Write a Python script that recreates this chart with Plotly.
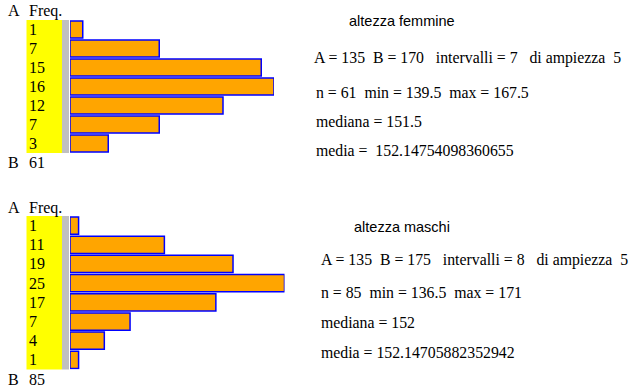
import plotly.graph_objects as go

W, H = 635, 389

# ---- data ----
fem_intervals = ["135-140", "140-145", "145-150", "150-155", "155-160", "160-165", "165-170"]
fem_freq = [1, 7, 15, 16, 12, 7, 3]
fem_n = 61
fem_title = "altezza femmine"
fem_lines = [
    "A = 135\u00a0\u00a0B = 170\u00a0\u00a0\u00a0intervalli = 7\u00a0\u00a0\u00a0di ampiezza\u00a0\u00a05",
    "n = 61\u00a0\u00a0min = 139.5\u00a0\u00a0max = 167.5",
    "mediana = 151.5",
    "media =\u00a0\u00a0152.14754098360655",
]

mas_intervals = ["135-140", "140-145", "145-150", "150-155", "155-160", "160-165", "165-170", "170-175"]
mas_freq = [1, 11, 19, 25, 17, 7, 4, 1]
mas_n = 85
mas_title = "altezza maschi"
mas_lines = [
    "A = 135\u00a0\u00a0B = 175\u00a0\u00a0\u00a0intervalli = 8\u00a0\u00a0\u00a0di ampiezza\u00a0\u00a05",
    "n = 85\u00a0\u00a0min = 136.5\u00a0\u00a0max = 171",
    "mediana = 152",
    "media = 152.14705882352942",
]

SERIF = "Liberation Serif, Times New Roman, serif"
SANS = "Liberation Sans, Arial, sans-serif"

def px(x):
    return x / W

def py(y):
    return 1 - y / H

fig = go.Figure()

panels = [
    dict(cats=fem_intervals, freq=fem_freq, n=fem_n, title=fem_title, lines=fem_lines,
         top=20, bot=153, xend=274, ax="", headY=11, bY=162, titleX=347, titleY=21,
         lineX=[312, 314, 314, 314], lineY=[58, 92, 121, 150]),
    dict(cats=mas_intervals, freq=mas_freq, n=mas_n, title=mas_title, lines=mas_lines,
         top=216, bot=369.5, xend=284.5, ax="2", headY=207.5, bY=379, titleX=352, titleY=227.5,
         lineX=[319, 319, 319, 319], lineY=[260, 292.5, 322, 352.5]),
]

shapes = []
annotations = []
for p in panels:
    ax = p["ax"]
    fig.add_trace(go.Bar(
        x=p["freq"], y=p["cats"], orientation="h",
        marker=dict(color="#FFA500", line=dict(color="#0000FF", width=1.5)),
        xaxis="x" + ax, yaxis="y" + ax, showlegend=False, hoverinfo="x+y",
    ))
    xa = dict(domain=[px(70), px(p["xend"])], range=[0, max(p["freq"])], visible=False,
              anchor="y" + ax, fixedrange=True)
    n = len(p["cats"])
    ya = dict(domain=[py(p["bot"]), py(p["top"])], type="category",
              range=[n - 0.5, -0.5], visible=False, anchor="x" + ax, fixedrange=True)
    fig.update_layout(**{"xaxis" + ax: xa, "yaxis" + ax: ya})

    shapes.append(dict(type="rect", xref="paper", yref="paper", x0=px(26.5), x1=px(62),
                       y0=py(p["bot"]), y1=py(p["top"]), fillcolor="#FFFF00", line_width=0,
                       layer="below"))
    shapes.append(dict(type="rect", xref="paper", yref="paper", x0=px(62), x1=px(69),
                       y0=py(p["bot"]), y1=py(p["top"]), fillcolor="#C0C0C0", line_width=0,
                       layer="below"))

    for c, f in zip(p["cats"], p["freq"]):
        annotations.append(dict(x=px(27), y=c, xref="paper", yref="y" + ax, text=str(f),
                                showarrow=False, xanchor="left", yanchor="middle",
                                font=dict(family=SERIF, size=16, color="black")))

    annotations.append(dict(x=px(6), y=py(p["headY"]), xref="paper", yref="paper", text="A",
                            showarrow=False, xanchor="left", yanchor="middle",
                            font=dict(family=SERIF, size=16, color="black")))
    annotations.append(dict(x=px(27), y=py(p["headY"]), xref="paper", yref="paper", text="Freq.",
                            showarrow=False, xanchor="left", yanchor="middle",
                            font=dict(family=SERIF, size=16, color="black")))
    annotations.append(dict(x=px(6), y=py(p["bY"]), xref="paper", yref="paper", text="B",
                            showarrow=False, xanchor="left", yanchor="middle",
                            font=dict(family=SERIF, size=16, color="black")))
    annotations.append(dict(x=px(27), y=py(p["bY"]), xref="paper", yref="paper", text=str(p["n"]),
                            showarrow=False, xanchor="left", yanchor="middle",
                            font=dict(family=SERIF, size=16, color="black")))
    annotations.append(dict(x=px(p["titleX"]), y=py(p["titleY"]), xref="paper", yref="paper",
                            text=p["title"], showarrow=False, xanchor="left", yanchor="middle",
                            font=dict(family=SANS, size=14.5, color="black")))
    for t, lx, ly in zip(p["lines"], p["lineX"], p["lineY"]):
        annotations.append(dict(x=px(lx), y=py(ly), xref="paper", yref="paper", text=t,
                                showarrow=False, xanchor="left", yanchor="middle",
                                font=dict(family=SERIF, size=15.8, color="black")))

fig.update_layout(
    width=W, height=H, autosize=False,
    margin=dict(l=0, r=0, t=0, b=0, pad=0),
    paper_bgcolor="white", plot_bgcolor="rgba(0,0,0,0)",
    bargap=0.1,
    shapes=shapes, annotations=annotations,
)

fig.write_html(
    "out.html",
    config={"displayModeBar": False},
    post_script="document.body.style.margin='0';document.body.style.padding='0';document.body.style.overflow='hidden';",
)
